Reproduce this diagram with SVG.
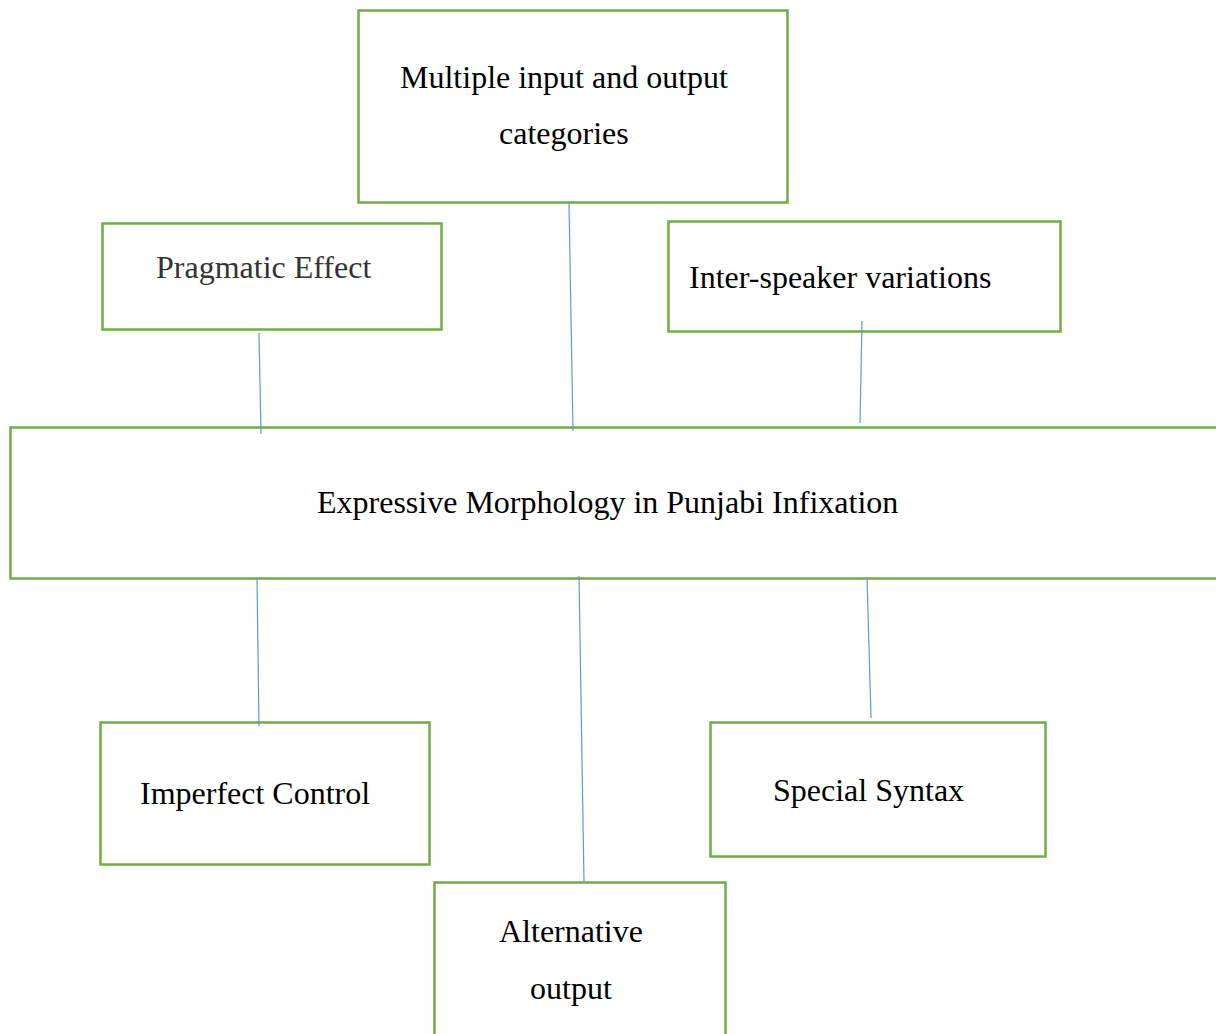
<svg xmlns="http://www.w3.org/2000/svg" width="1216" height="1034" viewBox="0 0 1216 1034">
<style>
.box{fill:#fff;stroke:#70AD47;stroke-width:2.5}
.t{font-family:"Liberation Serif","Times New Roman",serif;font-size:32px;fill:#000}
.g{fill:#333}
.c{stroke:#5B9BD5;stroke-width:1.2;fill:none}
</style>
<rect width="1216" height="1034" fill="#fff"/>
<g id="n-top"><rect class="box" x="358.5" y="10.5" width="429" height="192"/>
<text class="t" x="400" y="88">Multiple input and output</text>
<text class="t" x="499" y="144">categories</text></g>
<g id="n-prag"><rect class="box" x="102.5" y="223.5" width="339" height="106"/>
<text class="t g" x="156" y="278">Pragmatic Effect</text></g>
<g id="n-inter"><rect class="box" x="668.5" y="221.5" width="392" height="110"/>
<text class="t" x="689" y="288">Inter-speaker variations</text></g>
<g id="n-main"><rect class="box" x="10.5" y="427.5" width="1220" height="151"/>
<text class="t" x="317" y="513">Expressive Morphology in Punjabi Infixation</text></g>
<g id="n-imp"><rect class="box" x="100.5" y="722.5" width="329" height="142"/>
<text class="t" x="140" y="804">Imperfect Control</text></g>
<g id="n-syn"><rect class="box" x="710.5" y="722.5" width="335" height="134"/>
<text class="t" x="773" y="801">Special Syntax</text></g>
<g id="n-alt"><rect class="box" x="434.5" y="882.5" width="291" height="170"/>
<text class="t" x="499" y="942">Alternative</text>
<text class="t" x="530" y="999">output</text></g>
<g id="connectors">
<line class="c" x1="259" y1="333" x2="261" y2="434"/>
<line class="c" x1="569" y1="203" x2="573" y2="431"/>
<line class="c" x1="862" y1="321" x2="860" y2="423"/>
<line class="c" x1="257" y1="578" x2="259" y2="726"/>
<line class="c" x1="579" y1="576" x2="584" y2="882"/>
<line class="c" x1="867" y1="577" x2="871" y2="718"/>
</g>
</svg>
